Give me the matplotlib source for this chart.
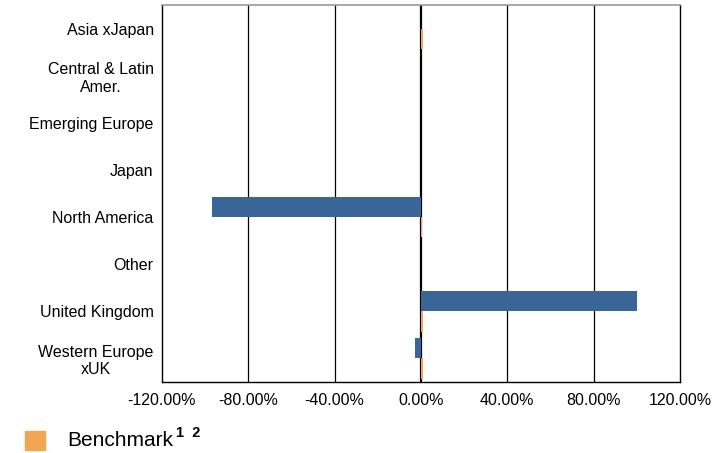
import matplotlib.pyplot as plt
from matplotlib.patches import Rectangle
from matplotlib.ticker import FuncFormatter
import numpy as np

plt.rcParams["font.family"] = ["Liberation Sans", "DejaVu Sans"]

REGIONS = ["Asia xJapan", "Central & Latin\nAmer.", "Emerging Europe", "Japan",
           "North America", "Other", "United Kingdom", "Western Europe\nxUK"]
PORTFOLIO = [0.0, 0.0, 0.0, 0.0, -97.0, 0.0, 100.0, -3.0]
BENCHMARK = [0.7, 0.0, 0.0, 0.0, 0.5, 0.0, 0.7, 0.7]
X_TICKS = [-120, -80, -40, 0, 40, 80, 120]

BLUE = "#3A6597"
ORANGE = "#F2A553"

fig = plt.figure(figsize=(7.15, 4.53), dpi=100)
ax = fig.add_axes([162 / 715, 1 - 382 / 453, (680 - 162) / 715, (382 - 5) / 453])

y = np.arange(len(REGIONS))
h = 0.43
ax.barh(y - h / 2, PORTFOLIO, height=h, color=BLUE, zorder=3)
ax.barh(y + h / 2, BENCHMARK, height=h, color=ORANGE, zorder=3)

ax.set_xlim(-120, 120)
ax.set_ylim(len(REGIONS) - 0.5, -0.5)
ax.set_xticks(X_TICKS)
ax.xaxis.set_major_formatter(FuncFormatter(lambda v, p: f"{v:.2f}%"))
ax.set_yticks(y)
ax.set_yticklabels(REGIONS, multialignment="center")
ax.tick_params(axis="both", length=0, labelsize=11.5)
ax.tick_params(axis="y", pad=6)
ax.tick_params(axis="x", pad=8)

for v in X_TICKS[1:-1]:
    ax.axvline(v, color="black", lw=1.6 if v == 0 else 0.9, zorder=1)

for side in ["left", "right", "bottom"]:
    ax.spines[side].set_color("black")
    ax.spines[side].set_linewidth(1.0)
ax.spines["top"].set_color("#999999")
ax.spines["top"].set_linewidth(1.2)

# legend entry drawn by hand below the axes
fig.patches.append(Rectangle((25 / 715, 1 - 450 / 453), 20 / 715, 19 / 453,
                             transform=fig.transFigure, color=ORANGE))
fig.text(67 / 715, 1 - 441 / 453, "Benchmark", fontsize=15, va="center", ha="left")
fig.text(176 / 715, 1 - 433 / 453, "1  2", fontsize=10.5, fontweight="bold",
         va="center", ha="left")

fig.savefig("out.png", dpi=100)
